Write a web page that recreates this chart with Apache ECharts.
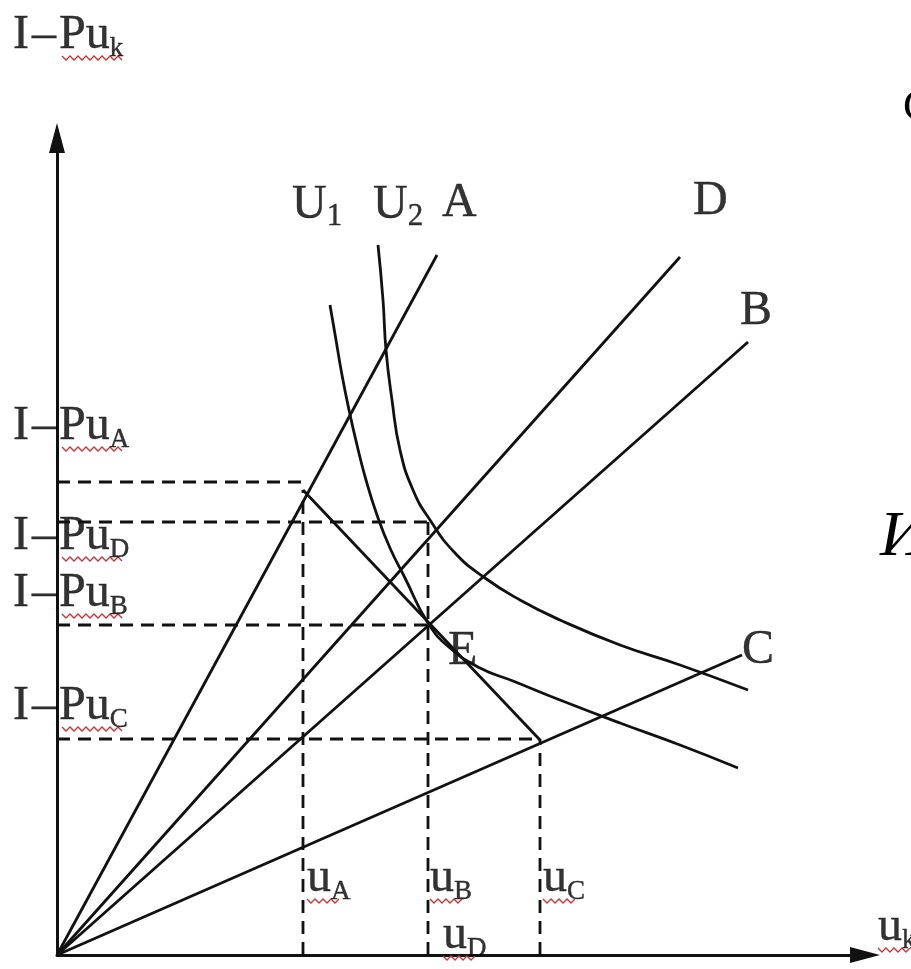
<!DOCTYPE html>
<html>
<head>
<meta charset="utf-8">
<script src="https://cdn.jsdelivr.net/npm/echarts@6/dist/echarts.min.js"></script>
<style>
    html, body { margin: 0; padding: 0; background: #fff; }
    #chart { width: 911px; height: 969px; }
</style>
</head>
<body>
<div id="chart"></div>
<script>
    // rays from the origin (end points)
    const rayNames = ['A', 'D', 'B', 'C'];
    const rayEnds = [[38.0, 70.0], [62.3, 69.8], [69.1, 61.3], [68.5, 30.0]];

    // indifference curves
    const curveU1 = [[27.3, 65.0], [27.9, 61.5], [28.5, 58.0], [29.2, 54.5], [30.0, 51.0], [30.9, 47.5],
        [32.0, 44.0], [33.3, 40.7], [34.8, 37.7], [37.1, 33.2], [39.3, 30.7], [42.3, 28.7],
        [45.6, 27.4], [50.3, 25.5], [56.3, 23.2], [62.3, 21.0], [68.1, 18.7]];
    const curveU2 = [[32.1, 71.0], [32.6, 65.5], [32.9, 60.5], [33.5, 55.5], [34.3, 50.5], [35.6, 46.5],
        [37.3, 43.5], [39.8, 40.2], [42.8, 37.7], [46.3, 35.5], [50.3, 33.5], [56.3, 31.0],
        [62.3, 29.0], [69.1, 26.5]];

    // line through A-point, E and C-point
    const budgetLine = [[24.6, 46.5], [48.3, 21.5]];

    // dashed guides: levels I-Pu and quantities u
    const levelY = [47.3, 43.3, 33.0, 21.6];
    const levelEndX = [24.6, 37.1, 37.1, 48.3];
    const quantX = [24.6, 37.1, 48.3];
    const quantTopY = [46.5, 43.3, 21.6];

    // text labels: [kind, text, subscript, x, y]
    const labels = [
        ['level', 'Pu', 'k', -4.4, 92.0],
        ['level', 'Pu', 'A', -4.4, 52.9],
        ['level', 'Pu', 'D', -4.4, 41.9],
        ['level', 'Pu', 'B', -4.4, 36.2],
        ['level', 'Pu', 'C', -4.4, 24.9],
        ['plain', 'u', 'A', 25.0, 7.7],
        ['plain', 'u', 'B', 37.3, 7.7],
        ['plain', 'u', 'C', 48.6, 7.7],
        ['plain', 'u', 'D', 38.6, 2.0],
        ['plain', 'u', 'k', 82.1, 2.8],
        ['num', 'U', '1', 23.5, 75.0],
        ['num', 'U', '2', 31.6, 75.0],
        ['plain', 'A', '', 38.5, 75.2],
        ['plain', 'D', '', 63.6, 75.4],
        ['plain', 'B', '', 68.3, 64.4],
        ['plain', 'C', '', 68.5, 30.5],
        ['plain', 'E', '', 39.1, 30.4]
    ];

    const ink = '#000';
    const serif = "'Liberation Serif', 'Times New Roman', serif";

    let series = [];
    let solid = { color: '#111', width: 2.8 };

    rayNames.forEach(function (name, i) {
        series.push({
            name: name, type: 'line', symbol: 'none', silent: true,
            data: [[0, 0], rayEnds[i]],
            lineStyle: solid
        });
    });

    series.push({
        name: 'U1', type: 'line', symbol: 'none', smooth: 0.5, data: curveU1, lineStyle: solid
    });
    series.push({
        name: 'U2', type: 'line', symbol: 'none', smooth: 0.5, data: curveU2, lineStyle: solid
    });
    series.push({
        name: 'budget', type: 'line', symbol: 'none', data: budgetLine, lineStyle: solid
    });

    let dashed = { color: '#111', width: 2.8, type: [13, 8] };

    levelY.forEach(function (y, i) {
        series.push({
            type: 'line', symbol: 'none', data: [[0, y], [levelEndX[i], y]], lineStyle: dashed
        });
    });
    quantX.forEach(function (x, i) {
        series.push({
            type: 'line', symbol: 'none', data: [[x, 0], [x, quantTopY[i]]], lineStyle: dashed
        });
    });

    let fmt = function (p) {
        let l = labels[p.dataIndex];
        let kind = l[0], main = l[1], sub = l[2];
        let s = '';
        if (kind === 'level') s += '{m|I}{d|–}';
        s += '{m|' + main + '}';
        if (sub) s += (kind === 'num' ? '{n|' : '{s|') + sub + '}';
        return s;
    };

    let txt = { fontFamily: serif, color: ink, textBorderColor: ink, textBorderWidth: 0.4 };

    series.push({
        type: 'scatter', clip: false, silent: true,
        symbolSize: 1,
        itemStyle: { color: 'rgba(0,0,0,0)' },
        data: labels.map(l => [l[3], l[4]]),
        label: {
            show: true, position: 'inside', align: 'left', verticalAlign: 'middle',
            color: ink,
            formatter: fmt,
            rich: {
                m: Object.assign({ fontSize: 48, lineHeight: 54 }, txt),
                d: Object.assign({ fontSize: 48, lineHeight: 54, padding: [0, 3, 0, 3] }, txt),
                s: Object.assign({ fontSize: 27, lineHeight: 29, verticalAlign: 'bottom' }, txt),
                n: Object.assign({ fontSize: 31, lineHeight: 33, verticalAlign: 'bottom' }, txt)
            }
        }
    });

    // red spell-check squiggles under the "Pu" / "u" labels
    let squiggled = labels.filter(l => l[1] === 'Pu' || l[1] === 'u');
    series.push({
        type: 'custom', clip: false, silent: true,
        data: squiggled.map(l => [l[3], l[4], l[0] === 'level' ? 1 : 0]),
        renderItem: function (params, api) {
            let p = api.coord([api.value(0), api.value(1)]);
            let lvl = api.value(2);
            let x0 = p[0] + (lvl ? 49 : 0);
            let w = lvl ? 60 : 34;
            let y0 = p[1] + 21;
            let pts = [];
            for (let k = 0; k * 4 <= w; k++) {
                pts.push([x0 + k * 4, y0 + (k % 2 ? 4 : 0)]);
            }
            return {
                type: 'polyline',
                shape: { points: pts },
                style: { stroke: '#c8363a', lineWidth: 1.4, fill: null }
            };
        }
    });

    let chart = echarts.init(document.getElementById('chart'));
    chart.setOption({
        animation: false,
        backgroundColor: '#fff',
        grid: { left: 57, right: 46, top: 138, bottom: 14 },
        xAxis: {
            type: 'value', min: 0, max: 80.8,
            axisLine: { onZero: false, lineStyle: { color: '#111', width: 3 }, symbol: ['none', 'triangle'], symbolSize: [16, 30] },
            axisTick: { show: false }, axisLabel: { show: false }, splitLine: { show: false }
        },
        yAxis: {
            type: 'value', min: 0, max: 81.7,
            axisLine: { onZero: false, lineStyle: { color: '#111', width: 3 }, symbol: ['none', 'triangle'], symbolSize: [16, 30] },
            axisTick: { show: false }, axisLabel: { show: false }, splitLine: { show: false }
        },
        graphic: [
            { type: 'text', style: { x: 903, y: 108, text: 'С', font: '44px ' + serif, fill: '#000', verticalAlign: 'middle' } },
            { type: 'text', style: { x: 880, y: 538, text: 'И', font: 'italic 64px ' + serif, fill: '#000', verticalAlign: 'middle' } }
        ],
        series: series
    });
</script>
</body>
</html>
